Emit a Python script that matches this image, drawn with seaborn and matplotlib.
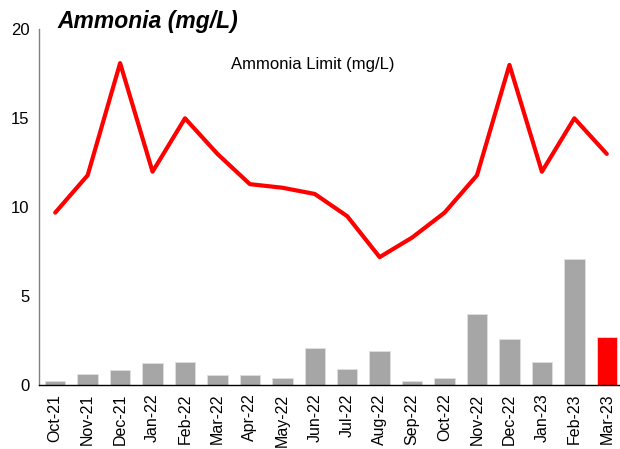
import numpy as np
import matplotlib
matplotlib.use("Agg")
import matplotlib.pyplot as plt
import seaborn as sns

# Datos
months = ['Oct-21', 'Nov-21', 'Dec-21', 'Jan-22', 'Feb-22', 'Mar-22', 'Apr-22', 'May-22', 'Jun-22',
          'Jul-22', 'Aug-22', 'Sep-22', 'Oct-22', 'Nov-22', 'Dec-22', 'Jan-23', 'Feb-23', 'Mar-23']
ammonia = [0.25, 0.65, 0.84, 1.23, 1.3, 0.56, 0.6, 0.39, 2.07,
           0.9, 1.94, 0.22, 0.41, 4.03, 2.61, 1.3, 7.1, 2.74]
ammonia_limit = [9.7, 11.8, 18.1, 12.0, 15.0, 13.0, 11.3, 11.1, 10.75,
                 9.5, 7.2, 8.3, 9.7, 11.8, 18.0, 12.0, 15.0, 13.0]
yticks = [0, 5, 10, 15, 20]

sns.set_style("white")
plt.rcParams['font.family'] = ['Liberation Sans', 'DejaVu Sans']
plt.rcParams['text.color'] = 'black'
plt.rcParams['xtick.color'] = 'black'
plt.rcParams['ytick.color'] = 'black'

fig = plt.figure(figsize=(6.2, 4.49), dpi=100)
ax = fig.add_axes([39 / 620, 63.7 / 449, 584 / 620, 356 / 449])

# Barras: gris, la ultima en rojo
bar_colors = ['#A6A6A6'] * (len(months) - 1) + ['#FF0000']
sns.barplot(x=months, y=ammonia, hue=months, palette=bar_colors, legend=False, saturation=1,
            width=0.63, edgecolor='#E0E0E0', linewidth=0.6, ax=ax)

# Linea del limite
sns.lineplot(x=np.arange(len(months)), y=ammonia_limit, color='#FF0000', linewidth=3,
             ax=ax, legend=False)

ax.set_xlim(-0.5, len(months) - 0.5)
ax.set_ylim(0, 20)
ax.set_yticks(yticks)
ax.set_yticklabels([str(v) for v in yticks], fontsize=12)
ax.set_xticks(np.arange(len(months)))
ax.set_xticklabels(months, rotation=90, fontsize=11.5)
ax.set_xticks(np.arange(len(months) + 1) - 0.5, minor=True)
ax.tick_params(axis='x', which='major', length=0, pad=6)
ax.tick_params(axis='x', which='minor', length=4, width=1, color='black', direction='out')
ax.tick_params(axis='y', length=4, width=1, color='#808080', direction='out', pad=3)
ax.set_xlabel('')
ax.set_ylabel('')

for s in ['top', 'right']:
    ax.spines[s].set_visible(False)
ax.spines['left'].set_color('#808080')
ax.spines['left'].set_linewidth(1)
ax.spines['bottom'].set_color('black')
ax.spines['bottom'].set_linewidth(1)

# Titulo y etiqueta
fig.text(57 / 620, 1 - 28 / 449, 'Ammonia (mg/L)', fontsize=16.5, fontweight='bold',
         fontstyle='italic', ha='left', va='baseline')
ax.text(7.93, 18.0, 'Ammonia Limit (mg/L)', fontsize=12, ha='center', va='center')

plt.savefig('out.png', dpi=100)
